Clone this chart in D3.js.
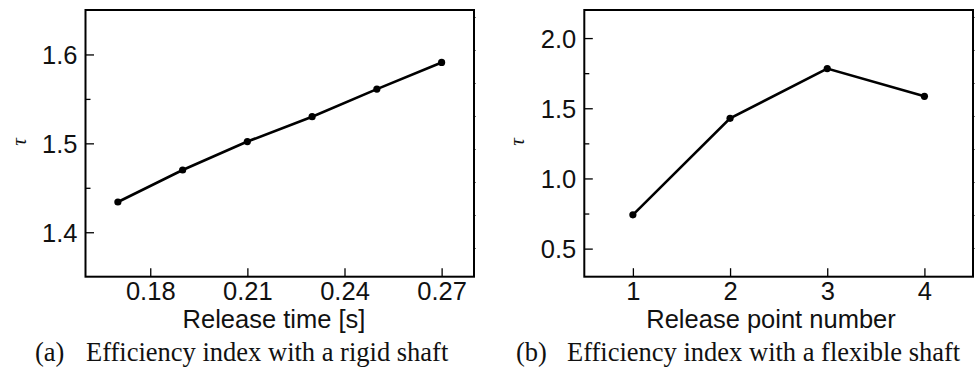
<!DOCTYPE html>
<html><head><meta charset="utf-8">
<script src="https://cdn.jsdelivr.net/npm/d3@7"></script>
<style>html,body{margin:0;padding:0;background:#fff}svg{display:block}</style>
</head><body>
<script>
// Panel (a): rigid shaft
const releaseTimes = [0.17, 0.19, 0.21, 0.23, 0.25, 0.27];
const tauRigid = [1.434, 1.470, 1.502, 1.530, 1.561, 1.591];
const xTicksA = [0.18, 0.21, 0.24, 0.27];
const yTicksA = [1.4, 1.5, 1.6];
const yMinorA = [1.45, 1.55];
// Panel (b): flexible shaft
const releasePoints = [1, 2, 3, 4];
const tauFlexible = [0.741, 1.428, 1.783, 1.585];
const xTicksB = [1, 2, 3, 4];
const yTicksB = [0.5, 1.0, 1.5, 2.0];
const yMinorB = [0.75, 1.25, 1.75];

const W = 980, H = 374;
const svg = d3.select("body").append("svg").attr("width", W).attr("height", H);

function panel(cfg) {
  const g = svg.append("g");
  const x = d3.scaleLinear().domain(cfg.xDomain).range([cfg.left, cfg.right]);
  const y = d3.scaleLinear().domain(cfg.yDomain).range([cfg.bottom, cfg.top]);
  const tickFont = "'Liberation Sans', Arial, sans-serif";

  // x axis (ticks inward)
  const xa = g.append("g").attr("transform", `translate(0,${cfg.bottom})`)
    .call(d3.axisBottom(x).tickValues(cfg.xTicks).tickFormat(cfg.xFmt).tickSize(-8.5).tickSizeOuter(0));
  xa.select(".domain").remove();
  xa.selectAll("line").attr("stroke", "#000").attr("stroke-width", 1.3);
  xa.selectAll("text").attr("y", 5.5).attr("dy", "0.71em")
    .style("font-family", tickFont).style("font-size", "25.5px").attr("fill", "#111");

  // y axis major
  const ya = g.append("g").attr("transform", `translate(${cfg.left},0)`)
    .call(d3.axisLeft(y).tickValues(cfg.yTicks).tickFormat(d3.format(".1f")).tickSize(-8.5).tickSizeOuter(0));
  ya.select(".domain").remove();
  ya.selectAll("line").attr("stroke", "#000").attr("stroke-width", 1.3);
  ya.selectAll("text").attr("x", -8).attr("dy", "0.36em")
    .style("font-family", tickFont).style("font-size", "25.5px").attr("fill", "#111");
  // y axis minor
  const ym = g.append("g").attr("transform", `translate(${cfg.left},0)`)
    .call(d3.axisLeft(y).tickValues(cfg.yMinor).tickFormat("").tickSize(-5).tickSizeOuter(0));
  ym.select(".domain").remove();
  ym.selectAll("line").attr("stroke", "#000").attr("stroke-width", 1.3);

  // faint right-side outward ticks
  const rs = d3.scaleLinear().domain([0, 1]).range([17, 50]);
  const ra = g.append("g").attr("transform", `translate(${cfg.right},0)`)
    .call(d3.axisRight(rs).tickValues(d3.range(0, 8)).tickFormat("").tickSize(2).tickSizeOuter(0));
  ra.select(".domain").remove();
  ra.selectAll("line").attr("stroke", "#777").attr("stroke-width", 1);

  // frame
  g.append("rect").attr("x", cfg.left).attr("y", cfg.top)
    .attr("width", cfg.right - cfg.left).attr("height", cfg.bottom - cfg.top)
    .attr("fill", "none").attr("stroke", "#000").attr("stroke-width", 2);

  // line + points
  const pts = cfg.xs.map((v, i) => [v, cfg.ys[i]]);
  g.append("path").datum(pts)
    .attr("d", d3.line().x(d => x(d[0])).y(d => y(d[1])))
    .attr("fill", "none").attr("stroke", "#000").attr("stroke-width", 2.6);
  g.selectAll("circle.pt").data(pts).join("circle")
    .attr("cx", d => x(d[0])).attr("cy", d => y(d[1])).attr("r", 3.6).attr("fill", "#000");

  // axis titles
  g.append("text").attr("x", cfg.titleX).attr("y", 327.5).attr("text-anchor", "middle")
    .style("font-family", tickFont).style("font-size", "25.5px").attr("fill", "#111").text(cfg.xTitle);
  g.append("text").attr("transform", `translate(${cfg.tauX},142) rotate(-90)`)
    .attr("text-anchor", "middle")
    .style("font-family", "'Liberation Serif', 'Times New Roman', serif").style("font-style", "italic")
    .style("font-size", "21px").attr("fill", "#111").text("τ");
  // caption
  g.append("text").attr("x", cfg.capX).attr("y", 361)
    .style("font-family", "'Liberation Serif', 'Times New Roman', serif")
    .style("font-size", "26.5px").attr("fill", "#111")
    .text(cfg.capLabel).append("tspan").attr("x", cfg.capX + 51).text(cfg.caption);
}

panel({
  left: 85.5, right: 474, top: 10, bottom: 276.7,
  xDomain: [0.16, 0.28], yDomain: [1.35, 1.65],
  xs: releaseTimes, ys: tauRigid,
  xTicks: xTicksA, xFmt: d3.format(".2f"), yTicks: yTicksA, yMinor: yMinorA,
  xTitle: "Release time [s]", titleX: 274, tauX: 25.5,
  capX: 35, capLabel: "(a)", caption: "Efficiency index with a rigid shaft"
});
panel({
  left: 584.3, right: 973, top: 10, bottom: 276.7,
  xDomain: [0.5, 4.5], yDomain: [0.3, 2.2],
  xs: releasePoints, ys: tauFlexible,
  xTicks: xTicksB, xFmt: d3.format("d"), yTicks: yTicksB, yMinor: yMinorB,
  xTitle: "Release point number", titleX: 771, tauX: 523.5,
  capX: 516, capLabel: "(b)", caption: "Efficiency index with a flexible shaft"
});
</script>
</body></html>
